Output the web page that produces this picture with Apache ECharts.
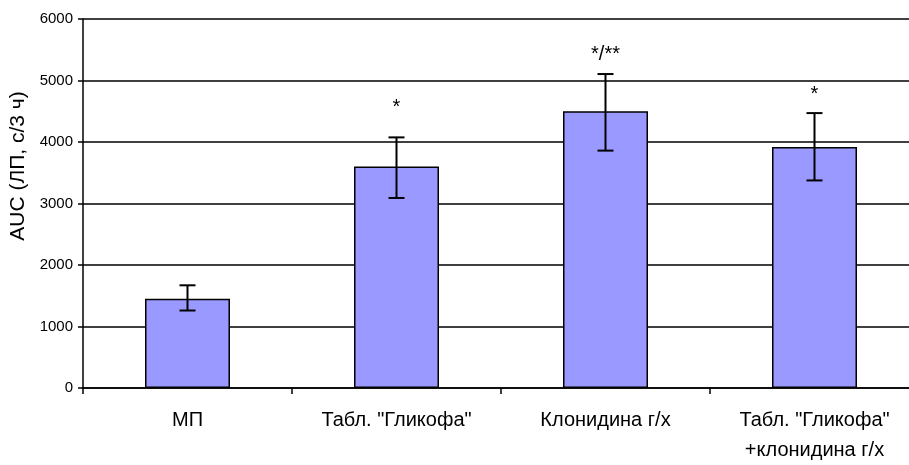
<!DOCTYPE html>
<html>
<head>
<meta charset="utf-8">
<script src="https://cdn.jsdelivr.net/npm/echarts@6/dist/echarts.min.js"></script>
<style>
  html, body { margin: 0; padding: 0; background: #fff; overflow: hidden; }
  /* the last category runs slightly past the right edge of the window */
  #chart { width: 920px; height: 465px; }
</style>
</head>
<body>
<div id="chart"></div>
<script>
// Groups on the x axis
const categories = ['МП', 'Табл. "Гликофа"', 'Клонидина г/х', 'Табл. "Гликофа"\n+клонидина г/х'];
// Mean AUC per group
const meanValues = [1450, 3600, 4500, 3920];
// Error bar limits
const errLow = [1260, 3090, 3860, 3375];
const errHigh = [1670, 4075, 5105, 4470];
// Significance marks and the level they are written at
const sigMarks = ['', '*', '*/**', '*'];
const sigLevels = [null, 4560, 5420, 4770];
// Y axis range
const yMin = 0, yMax = 6000, yStep = 1000;

const FONT = '"Liberation Sans", Arial, sans-serif';
const chart = echarts.init(document.getElementById('chart'), null, { renderer: 'canvas' });

chart.setOption({
  animation: false,
  backgroundColor: '#ffffff',
  grid: { left: 83, right: 1, top: 19, bottom: 72 },
  graphic: [{
    type: 'text',
    x: 18, y: 166,
    rotation: Math.PI / 2,
    style: {
      text: 'AUC (ЛП, с/3 ч)',
      font: '21px ' + FONT,
      fill: '#000',
      align: 'center',
      verticalAlign: 'middle'
    }
  }],
  xAxis: {
    type: 'category',
    data: categories,
    boundaryGap: true,
    axisLine: { lineStyle: { color: '#000', width: 1.5 } },
    axisTick: { show: true, length: 6, inside: false, alignWithLabel: false, lineStyle: { color: '#000', width: 1.5 } },
    axisLabel: {
      color: '#000', fontFamily: FONT, fontSize: 20, margin: 17,
      lineHeight: 30, align: 'center'
    },
    splitLine: { show: false }
  },
  yAxis: {
    type: 'value',
    min: yMin, max: yMax, interval: yStep,
    axisLine: { show: true, lineStyle: { color: '#000', width: 1.5 } },
    axisTick: { show: true, length: 5, lineStyle: { color: '#000', width: 1.5 } },
    axisLabel: { color: '#000', fontFamily: FONT, fontSize: 15, margin: 10, formatter: v => String(v) },
    splitLine: { show: true, lineStyle: { color: '#000', width: 1.5 } }
  },
  series: [
    {
      type: 'bar',
      data: meanValues,
      barWidth: 85,
      itemStyle: { color: '#9999ff', borderColor: '#000', borderWidth: 1.5 },
      z: 2
    },
    {
      type: 'custom',
      z: 5,
      data: categories.map((c, i) => [i, errLow[i], errHigh[i]]),
      renderItem: function (params, api) {
        const x = api.coord([api.value(0), 0])[0];
        const lo = api.coord([api.value(0), api.value(1)])[1];
        const hi = api.coord([api.value(0), api.value(2)])[1];
        const hw = 8;
        const st = { stroke: '#000', lineWidth: 2 };
        return {
          type: 'group',
          children: [
            { type: 'line', shape: { x1: x, y1: hi, x2: x, y2: lo }, style: st },
            { type: 'line', shape: { x1: x - hw, y1: hi, x2: x + hw, y2: hi }, style: st },
            { type: 'line', shape: { x1: x - hw, y1: lo, x2: x + hw, y2: lo }, style: st }
          ]
        };
      }
    },
    {
      type: 'custom',
      z: 6,
      data: categories.map((c, i) => [i, sigLevels[i] == null ? 0 : sigLevels[i], sigMarks[i]]),
      renderItem: function (params, api) {
        const i = params.dataIndex;
        if (!sigMarks[i]) return null;
        const p = api.coord([i, sigLevels[i]]);
        return {
          type: 'text',
          x: p[0], y: p[1],
          style: {
            text: sigMarks[i],
            font: '20px ' + FONT,
            fill: '#000',
            align: 'center',
            verticalAlign: 'middle'
          }
        };
      }
    }
  ]
});
</script>
</body>
</html>
